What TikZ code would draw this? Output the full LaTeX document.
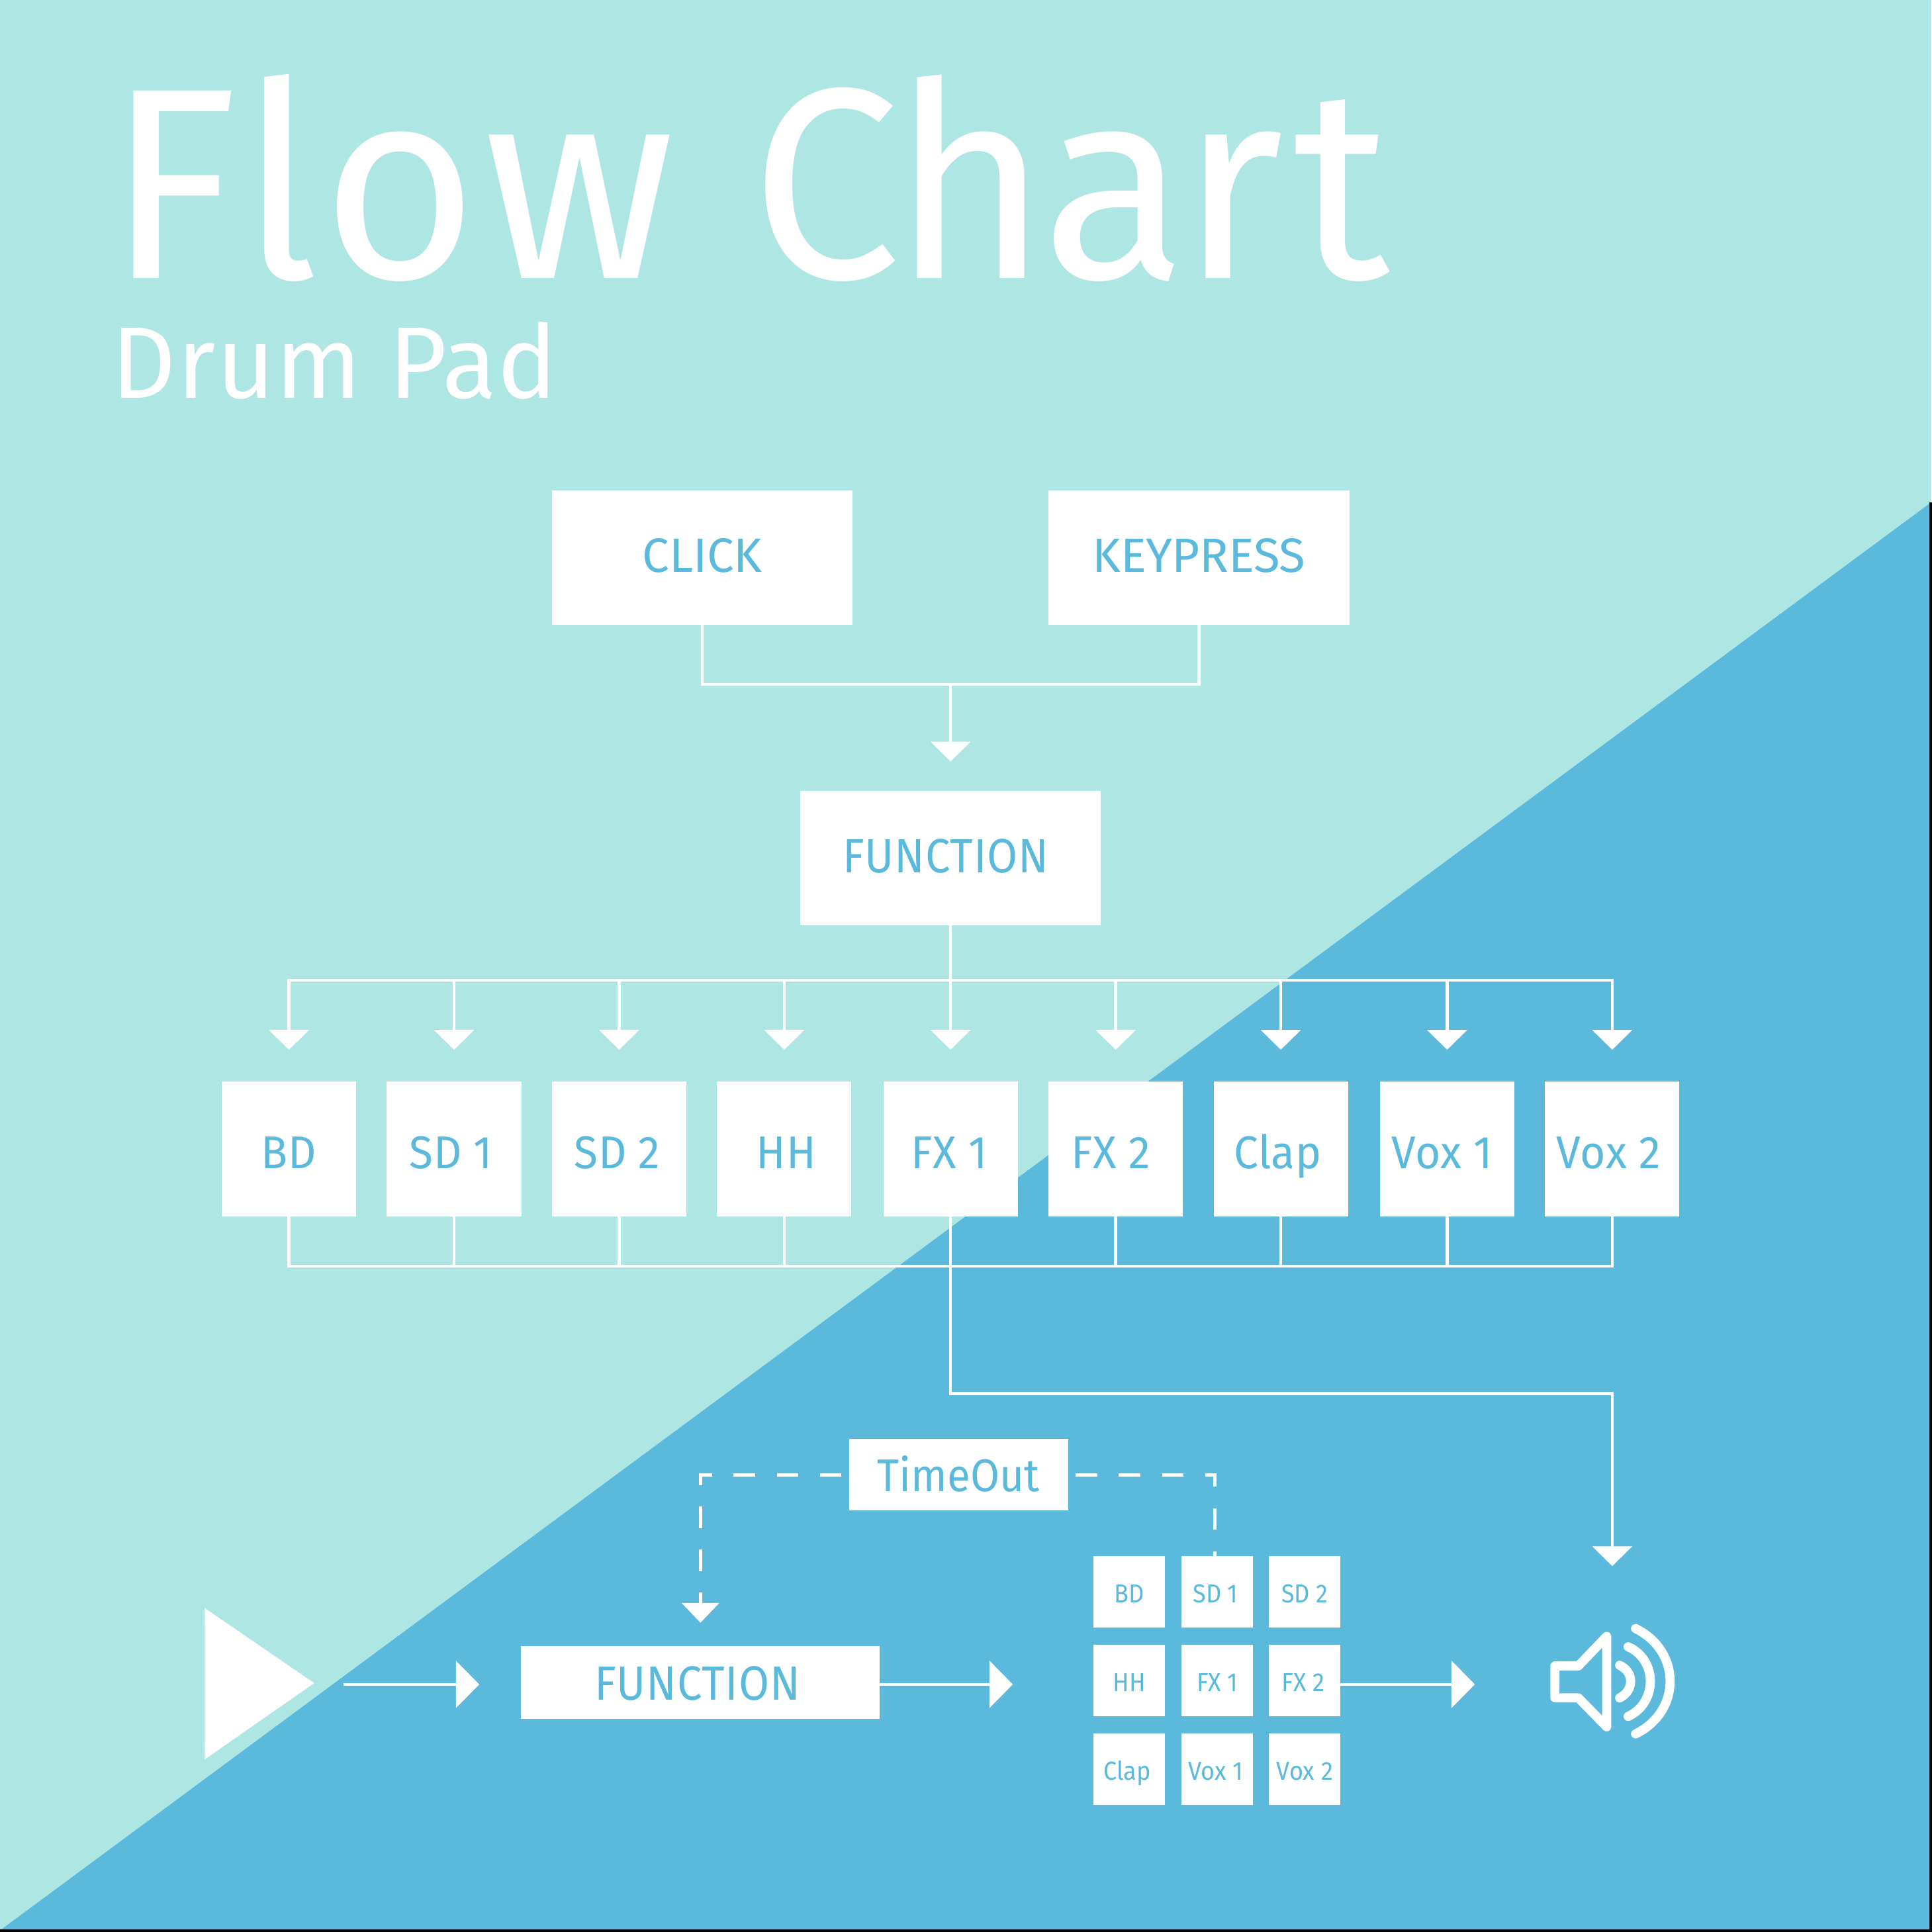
\documentclass[tikz,border=0pt]{standalone}
\usepackage{fontspec}
\setmainfont{Fira Sans}
\usetikzlibrary{positioning, arrows.meta}
\definecolor{PadAqua}{RGB}{174, 230, 227}
\definecolor{PadBlue}{RGB}{91, 185, 220}
\newcommand{\padfont}[3]{\fontsize{#1}{#1}\selectfont\addfontfeature{LetterSpace=#2,FakeStretch=#3}}
\tikzset{
  wirebase/.style={draw=white, line width=0.024cm, line cap=rect},
  dropline/.style={wirebase, -{Triangle[length=0.16cm, width=0.32cm]}},
  pushline/.style={wirebase, -{Triangle[length=0.19cm, width=0.38cm]}},
  waitline/.style={draw=white, line width=0.024cm, dash pattern=on 0.175cm off 0.175cm,
    -{Triangle[length=0.16cm, width=0.3cm]}},
  padbox/.style={fill=white, text=PadBlue, inner sep=0pt, outer sep=0pt, anchor=center},
  widebox/.style={padbox, minimum width=2.44cm, minimum height=1.09cm, text height=0.24cm, text depth=0pt,
    font=\padfont{11.1pt}{-0.5}{1}},
  rowbox/.style={padbox, minimum width=1.09cm, minimum height=1.09cm, text height=0.32cm, text depth=0pt,
    font=\padfont{10.6pt}{1}{0.95}},
  gridbox/.style={padbox, minimum width=0.58cm, minimum height=0.58cm, text height=0.17cm, text depth=0pt,
    font=\padfont{6pt}{0}{0.92}},
  speakerline/.style={draw=white, line width=0.074cm, line cap=round, line join=round},
}
\begin{document}
\begin{tikzpicture}[x=0.01cm, y=-0.01cm]
    \useasboundingbox (0,0) rectangle (1568,1568);

    % Background
    \fill[white] (0,0) rectangle (1568,1568);
    \fill[PadAqua] (0,0) rectangle (1567,1568);
    \fill[black] (1565.6,407.7) rectangle (1568,1568);
    \fill[black] (0,1565.6) rectangle (1568,1568);
    \fill[PadBlue] (1565.6,409) -- (1565.6,1565.6) -- (1.5,1565.6) -- cycle;

    % Title
    \node[text=white, inner sep=0pt, anchor=base west, text depth=0pt, font=\padfont{62.8pt}{1.8}{0.983}] (title) at (86,226)
      {Flow \addfontfeature{LetterSpace=-2.4}Char\kern0.08cm t};
    \node[text=white, inner sep=0pt, anchor=base west, font=\padfont{23.5pt}{0.7}{0.985}] (subtitle) at (90,323) {Drum Pad};

    % Input and function boxes
    \node[widebox] (click) at (570,452.5) {CLICK};
    \node[widebox] (keypress) at (973,452.5) {KEYPRESS};
    \node[widebox, font=\padfont{11.1pt}{1}{0.92}] (function) at (771.5,696.5) {FUNCTION\kern0.08cm};

    % Row of pads
    \foreach \x/\n/\lab in {234.5/1/BD, 368.5/2/SD 1\kern0.05cm, 502.5/3/SD 2\kern0.03cm, 636.5/4/\kern0.03cm HH, 771.5/5/FX 1\kern0.02cm,
                            905.5/6/FX 2\kern0.08cm, 1039.5/7/Clap\kern0.05cm, 1174.5/8/Vox 1\kern0.08cm, 1308.5/9/Vox 2\kern0.06cm} {
      \node[rowbox] (row\n) at (\x,932.5) {\lab};
    }

    % Input wires
    \coordinate (joint) at (771.5,555.5);
    \draw[wirebase] (click.south) |- (joint);
    \draw[wirebase] (keypress.south) |- (joint);
    \draw[dropline, shorten >=0.24cm] (joint) -- (function.north);

    % Wires over and under the row
    \coordinate (topbus) at (771.5,795.5);
    \coordinate (lowbus) at (771.5,1027.5);
    \draw[wirebase] (function.south) -- (topbus);
    \draw[wirebase] (row1 |- topbus) -- (row9 |- topbus);
    \draw[wirebase] (row1 |- lowbus) -- (row9 |- lowbus);
    \foreach \n in {1,...,9} {
      \draw[dropline, shorten >=0.26cm] (row\n |- topbus) -- (row\n.north);
      \draw[wirebase] (row\n.south) -- (row\n |- lowbus);
    }

    % Way down to the speaker
    \coordinate (turn) at (1308.5,1131);
    \coordinate (speakertip) at (1308.5,1271);
    \draw[wirebase] (row5.south) |- (turn);
    \draw[dropline] (turn) -- (speakertip);

    % Lower flow
    \node[padbox, minimum width=1.78cm, minimum height=0.58cm, text height=0.27cm, text depth=0pt,
      font=\padfont{10.6pt}{0}{0.92}] (timeout) at (778,1197) {TimeOut};
    \node[padbox, minimum width=2.91cm, minimum height=0.59cm, text height=0.28cm, text depth=0pt,
      font=\padfont{11.1pt}{1}{0.92}] (function2) at (568.5,1365.5) {FUNCTION\kern0.05cm};
    \foreach \x/\y/\name/\lab in {916.5/1292/gbd/BD, 988/1292/gsda/SD 1\kern0.03cm, 1059/1292/gsdb/SD 2,
                                  916.5/1364/ghh/HH, 988/1364/gfxa/FX 1, 1059/1364/gfxb/FX 2\kern0.03cm,
                                  916.5/1436/gclap/Clap\kern0.03cm, 988/1436/gvoxa/Vox 1\kern0.03cm, 1059/1436/gvoxb/Vox 2} {
      \node[gridbox] (\name) at (\x,\y) {\lab};
    }

    % Play mark
    \fill[white] (166,1305) -- (255,1366) -- (166,1428) -- cycle;

    % Dashed wires
    \coordinate (sdtop) at (986,1263);
    \draw[waitline, shorten <=0.06cm, shorten >=0.19cm] (timeout.west) -| (function2.north);
    \draw[waitline, -, shorten <=0.06cm] (timeout.east) -| (sdtop);

    % Arrows along the lower flow
    \coordinate (playout) at (280,1367);
    \coordinate (fnin) at (389,1367);
    \coordinate (fnout) at (714,1367);
    \coordinate (gridin) at (822,1367);
    \coordinate (gridout) at (1088,1367);
    \coordinate (speakerin) at (1197,1367);
    \draw[pushline] (playout) -- (fnin);
    \draw[pushline] (fnout) -- (gridin);
    \draw[pushline] (gridout) -- (speakerin);

    % Speaker
    \draw[speakerline] (1262,1352) -- (1281,1352) -- (1304,1328) -- (1304,1401.5) -- (1281,1378) -- (1262,1378) -- cycle;
    \draw[speakerline] (1314.5,1351.5) .. controls (1326.4,1357) and (1326.4,1372) .. (1314.5,1378);
    \draw[speakerline] (1321.4,1336.5) .. controls (1345.4,1347) and (1345.4,1382) .. (1321.4,1393);
    \draw[speakerline] (1327.4,1321.7) .. controls (1364.8,1340) and (1364.8,1389) .. (1327.4,1407.2);
\end{tikzpicture}
\end{document}
